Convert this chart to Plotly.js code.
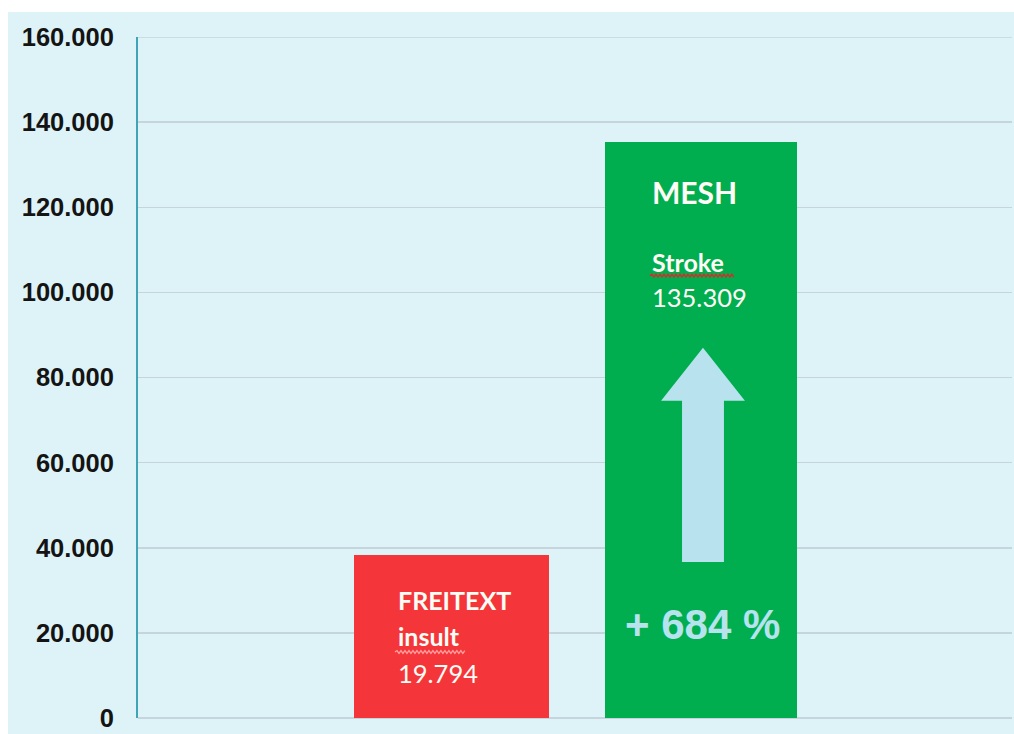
<!DOCTYPE html>
<html>
<head>
<meta charset="utf-8">
<script src="https://cdn.plot.ly/plotly-3.0.1.min.js"></script>
<style>
  html, body { margin: 0; padding: 0; background: #ffffff; width: 1014px; height: 734px; overflow: hidden; }
  #chart { position: absolute; left: 8px; top: 12px; width: 1006px; height: 722px; }
</style>
</head>
<body>
<div id="chart"></div>
<script>
// ---- data ----
const categories = ['FREITEXT insult', 'MESH Stroke'];
const xPositions = [1, 2];
const barValues = [38400, 135309];
const barColors = ['#f4363b', '#00ae4f'];
const labelTitles = ['FREITEXT', 'MESH'];
const labelSubtitles = ['insult', 'Stroke'];
const labelNumbers = ['19.794', '135.309'];
const changeLabel = '+ 684 %';
const yTickValues = [0, 20000, 40000, 60000, 80000, 100000, 120000, 140000, 160000];

// ---- helpers for decorations ----
function zigzag(x0, x1, y, stepX, amp) {
  let d = 'M ' + x0 + ' ' + y;
  let up = true;
  for (let x = x0 + stepX / 2; x <= x1 + 1e-9; x += stepX / 2) {
    d += ' L ' + x.toFixed(4) + ' ' + (up ? y + amp : y - amp);
    up = !up;
  }
  return d;
}
function arrowPath(cx, yBottom, yHeadBase, yTip, headHalf, shaftHalf) {
  return 'M ' + (cx - shaftHalf) + ' ' + yBottom +
    ' L ' + (cx + shaftHalf) + ' ' + yBottom +
    ' L ' + (cx + shaftHalf) + ' ' + yHeadBase +
    ' L ' + (cx + headHalf) + ' ' + yHeadBase +
    ' L ' + cx + ' ' + yTip +
    ' L ' + (cx - headHalf) + ' ' + yHeadBase +
    ' L ' + (cx - shaftHalf) + ' ' + yHeadBase + ' Z';
}

const trace = {
  type: 'bar',
  x: xPositions,
  y: barValues,
  width: [0.782, 0.77],
  marker: { color: barColors, line: { width: 0 } },
  text: categories,
  textposition: 'none',
  hoverinfo: 'none'
};

const whiteFont = { family: 'Lato, "Open Sans", sans-serif', color: '#fffdf5' };
const textLeft = [0.777, 1.796];
const titleY = [27745, 123680];
const subY = [19280, 107220];
const numY = [10580, 98990];
const annotations = [];
for (let i = 0; i < categories.length; i++) {
  annotations.push({ x: textLeft[i], y: titleY[i], xref: 'x', yref: 'y', xanchor: 'left', yanchor: 'middle', showarrow: false,
    text: labelTitles[i], font: Object.assign({}, whiteFont, { size: i === 0 ? 25 : 30, weight: 'bold' }) });
  annotations.push({ x: textLeft[i], y: subY[i], xref: 'x', yref: 'y', xanchor: 'left', yanchor: 'middle', showarrow: false,
    text: labelSubtitles[i], font: Object.assign({}, whiteFont, { size: 25, weight: 'bold' }) });
  annotations.push({ x: textLeft[i], y: numY[i], xref: 'x', yref: 'y', xanchor: 'left', yanchor: 'middle', showarrow: false,
    text: labelNumbers[i], font: Object.assign({}, whiteFont, { size: 25.5 }) });
}
annotations.push({ x: 2.008, y: 21870, xref: 'x', yref: 'y', xanchor: 'center', yanchor: 'middle', showarrow: false,
  text: changeLabel, font: { family: '"Liberation Sans", Arial, sans-serif', size: 42, weight: 'bold', color: '#b6e3ee' } });

const shapes = [
  { type: 'line', xref: 'paper', yref: 'y', x0: 0, x1: 1, y0: 160000, y1: 160000,
    line: { color: '#c6d5dd', width: 1.5 }, layer: 'below' },
  { type: 'path', xref: 'x', yref: 'y', path: arrowPath(2.008, 36680, 74536, 87000, 0.168, 0.084),
    fillcolor: '#b7e2ee', line: { width: 0 } },
  { type: 'path', xref: 'x', yref: 'y', path: zigzag(0.7735, 1.058, 15520, 0.016, 330),
    fillcolor: 'rgba(0,0,0,0)', line: { color: '#ffa0a0', width: 1.3 } },
  { type: 'path', xref: 'x', yref: 'y', path: zigzag(1.7956, 2.1363, 103930, 0.016, 330),
    fillcolor: 'rgba(0,0,0,0)', line: { color: '#e02828', width: 1.3 } }
];

const layout = {
  width: 1006,
  height: 722,
  margin: { l: 130, r: 2, t: 25, b: 16, pad: 0 },
  paper_bgcolor: '#ddf3f8',
  plot_bgcolor: '#ddf3f8',
  separators: ',.',
  showlegend: false,
  bargap: 0,
  xaxis: {
    range: [-0.2565, 3.2465],
    showgrid: false,
    zeroline: false,
    showticklabels: false,
    ticks: '',
    showline: false,
    fixedrange: true
  },
  yaxis: {
    range: [0, 160000],
    tickvals: yTickValues,
    tickformat: ',d',
    ticks: '',
    ticklabelstandoff: 17,
    tickfont: { family: '"Liberation Sans", Arial, sans-serif', size: 25.5, weight: 'bold', color: '#141414' },
    showgrid: true,
    gridcolor: '#c6d5dd',
    gridwidth: 1.5,
    zeroline: true,
    zerolinecolor: '#c6d5dd',
    zerolinewidth: 1.5,
    showline: true,
    linecolor: '#3ea4b6',
    linewidth: 2,
    fixedrange: true
  },
  annotations: annotations,
  shapes: shapes
};

Plotly.newPlot('chart', [trace], layout, { displayModeBar: false, staticPlot: true });
</script>
</body>
</html>
